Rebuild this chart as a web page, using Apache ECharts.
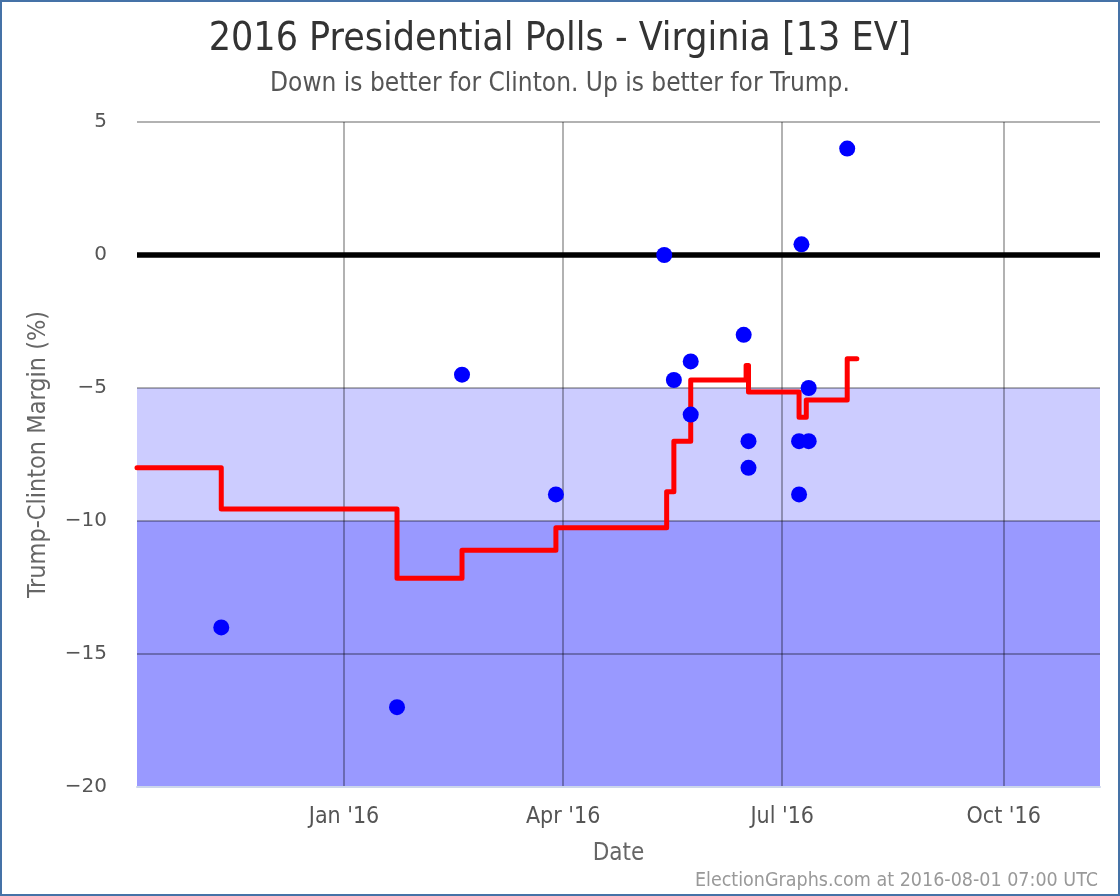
<!DOCTYPE html>
<html>
<head>
<meta charset="utf-8">
<title>2016 Presidential Polls - Virginia</title>
<script src="https://cdn.jsdelivr.net/npm/echarts@6/dist/echarts.min.js"></script>
<style>
    html, body {margin: 0; padding: 0; background: #fff;}
    #main {width: 1120px; height: 896px;}
</style>
</head>
<body>
<div id="main"></div>
<script>
// polls (date, Trump-Clinton margin)
var pollDates = ['2015-11-11', '2016-01-23', '2016-02-19', '2016-03-29', '2016-05-13', '2016-05-17',
    '2016-05-24', '2016-05-24', '2016-06-15', '2016-06-17', '2016-06-17', '2016-07-08',
    '2016-07-12', '2016-07-08', '2016-07-09', '2016-07-12', '2016-07-28'];
var pollMargins = [-14, -17, -4.5, -9, 0, -4.7, -4, -6, -3, -7, -8, -7, -7, -9, 0.4, -5, 4];

// poll average, holds until next date
var avgDates = ['2015-10-07', '2015-11-11', '2016-01-23', '2016-02-19', '2016-03-29', '2016-05-14',
    '2016-05-17', '2016-05-24', '2016-06-16', '2016-06-17', '2016-07-08', '2016-07-11',
    '2016-07-28', '2016-08-01'];
var avgMargins = [-8.0, -9.55, -12.15, -11.1, -10.25, -8.9, -7.0, -4.7, -4.15, -5.15, -6.1, -5.45, -3.9, -3.9];

var tickDates = ['2016-01-01', '2016-04-01', '2016-07-01', '2016-10-01'];
var tickLabels = ["Jan '16", "Apr '16", "Jul '16", "Oct '16"];

var xMin = '2015-10-07';
var xMax = '2016-11-10';

function ts(s) {
    var p = s.split('-');
    return Date.UTC(+p[0], +p[1] - 1, +p[2]);
}

var pollData = [];
for (var i = 0; i < pollDates.length; i++) {
    pollData.push([ts(pollDates[i]), pollMargins[i]]);
}
var avgData = [];
for (var j = 0; j < avgDates.length; j++) {
    avgData.push([ts(avgDates[j]), avgMargins[j]]);
}
var tickValues = tickDates.map(ts);
var tickText = {};
for (var k = 0; k < tickValues.length; k++) {
    tickText[tickValues[k]] = tickLabels[k];
}

var condensed = '"DejaVu Sans Condensed", "DejaVu Sans", sans-serif';
var app = echarts.init(document.getElementById('main'));

var option = {
    animation: false,
    title: [
        {
            text: '2016 Presidential Polls - Virginia [13 EV]',
            left: 'center',
            top: 15,
            textStyle: {fontFamily: condensed, fontSize: 39, fontWeight: 'normal', color: '#333'}
        },
        {
            text: 'Down is better for Clinton. Up is better for Trump.',
            left: 'center',
            top: 66,
            textStyle: {fontFamily: condensed, fontSize: 26, fontWeight: 'normal', color: '#555'}
        }
    ],
    grid: {left: 137, right: 20, top: 122, bottom: 109, containLabel: false},
    xAxis: {
        type: 'value',
        min: ts(xMin),
        max: ts(xMax),
        z: 2,
        name: 'Date',
        nameLocation: 'middle',
        nameGap: 55,
        nameTextStyle: {fontFamily: condensed, fontSize: 24, color: '#666'},
        axisLine: {show: true, onZero: false, lineStyle: {color: '#ccd6eb', width: 2}},
        axisTick: {show: false, customValues: tickValues},
        axisLabel: {
            customValues: tickValues,
            margin: 19,
            fontFamily: condensed,
            fontSize: 23,
            color: '#555',
            formatter: function (v) {
                return tickText[v] || '';
            }
        },
        splitLine: {show: true, lineStyle: {color: 'rgba(0,0,0,0.3)', width: 2}}
    },
    yAxis: {
        type: 'value',
        min: -20,
        max: 5,
        interval: 5,
        z: 2,
        name: 'Trump-Clinton Margin (%)',
        nameLocation: 'middle',
        nameGap: 86,
        nameTextStyle: {fontFamily: condensed, fontSize: 25, color: '#666'},
        axisLine: {show: false},
        axisTick: {show: false},
        axisLabel: {
            margin: 30,
            fontFamily: '"DejaVu Sans", sans-serif',
            fontSize: 20,
            color: '#555',
            formatter: function (v) {
                return String(v).replace('-', '\u2212');
            }
        },
        splitLine: {show: true, lineStyle: {color: 'rgba(0,0,0,0.3)', width: 2}}
    },
    series: [
        {
            // background bands and the thick zero line
            type: 'line',
            data: [],
            silent: true,
            markArea: {
                z: 1,
                silent: true,
                data: [
                    [{yAxis: -10, itemStyle: {color: '#ccccff'}}, {yAxis: -5}],
                    [{yAxis: -20, itemStyle: {color: '#9999ff'}}, {yAxis: -10}],
                    [{yAxis: -0.1, itemStyle: {color: '#000000'}}, {yAxis: 0.1}]
                ]
            }
        },
        {
            name: 'average',
            type: 'line',
            step: 'end',
            z: 3,
            symbol: 'none',
            lineStyle: {color: '#ff0000', width: 5, cap: 'round', join: 'round'},
            data: avgData
        },
        {
            name: 'polls',
            type: 'scatter',
            z: 4,
            symbolSize: 16,
            itemStyle: {color: '#0000ff', opacity: 1},
            data: pollData
        }
    ],
    graphic: [
        {
            type: 'text',
            right: 22,
            top: 871,
            style: {
                text: 'ElectionGraphs.com at 2016-08-01 07:00 UTC',
                fontFamily: condensed,
                fontSize: 19.5,
                fill: '#999'
            }
        },
        {
            type: 'rect',
            silent: true,
            shape: {x: 1, y: 1, width: 1118, height: 894},
            style: {fill: 'none', stroke: '#4572a7', lineWidth: 2}
        }
    ]
};

app.setOption(option);
</script>
</body>
</html>
